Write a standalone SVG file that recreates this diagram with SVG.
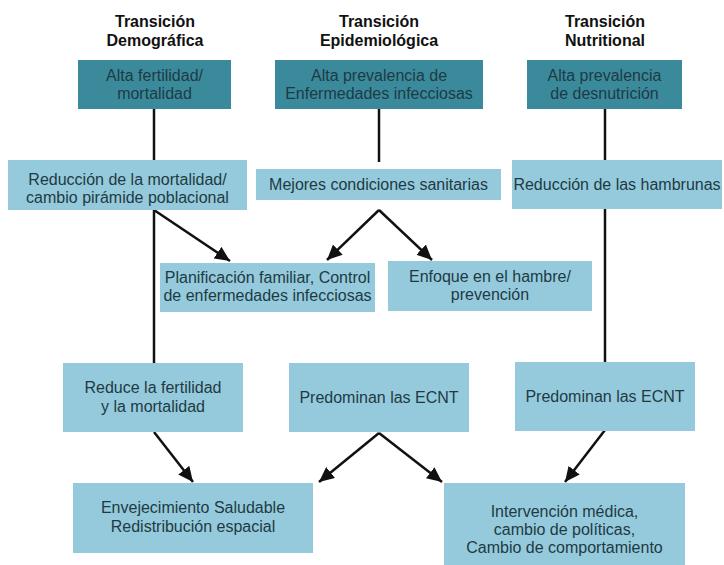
<svg xmlns="http://www.w3.org/2000/svg" width="724" height="565" viewBox="0 0 724 565">
<style>
.hdr{font-family:"Liberation Sans",Arial,sans-serif;font-size:16px;font-weight:bold;fill:#111;text-anchor:middle}
.t{font-family:"Liberation Sans",Arial,sans-serif;font-size:16px;fill:#1f3a44;text-anchor:middle}
.dark{fill:#3a8a9c}
.light{fill:#94cadb}
.c{stroke:#111;stroke-width:2.5;fill:none}
.a{marker-end:url(#ah)}
</style>
<defs>
<marker id="ah" markerUnits="userSpaceOnUse" markerWidth="16" markerHeight="14" refX="15" refY="7" orient="auto">
<path d="M0,0 L15,7 L0,14 z" fill="#111"/>
</marker>
</defs>
<rect width="724" height="565" fill="#fff"/>
<g id="headers">
<text class="hdr" x="155" y="27">Transición</text>
<text class="hdr" x="155" y="46">Demográfica</text>
<text class="hdr" x="379" y="27">Transición</text>
<text class="hdr" x="379" y="46">Epidemiológica</text>
<text class="hdr" x="605" y="27">Transición</text>
<text class="hdr" x="605" y="46">Nutritional</text>
</g>
<g id="connectors">
<line class="c" x1="154" y1="109" x2="154" y2="160"/>
<line class="c" x1="379" y1="109" x2="379" y2="162"/>
<line class="c" x1="605" y1="109" x2="605" y2="160"/>
<line class="c" x1="154" y1="210" x2="154" y2="363"/>
<line class="c" x1="605" y1="209" x2="605" y2="363"/>
<line class="c a" x1="154" y1="210" x2="230" y2="261"/>
<line class="c a" x1="379" y1="210" x2="327" y2="260"/>
<line class="c a" x1="379" y1="210" x2="432" y2="260"/>
<line class="c a" x1="154" y1="432" x2="193" y2="482"/>
<line class="c a" x1="379" y1="433" x2="319" y2="482"/>
<line class="c a" x1="379" y1="433" x2="442" y2="482"/>
<line class="c a" x1="605" y1="430" x2="565" y2="482"/>
</g>
<g id="alta-fertilidad">
<rect class="dark" x="78" y="60" width="153" height="49"/>
<text class="t" x="154.5" y="81">Alta fertilidad/</text>
<text class="t" x="154.5" y="99">mortalidad</text>
</g>
<g id="alta-prevalencia-infecciosas">
<rect class="dark" x="275" y="60" width="208" height="49"/>
<text class="t" x="379" y="81">Alta prevalencia de</text>
<text class="t" x="379" y="99">Enfermedades infecciosas</text>
</g>
<g id="alta-prevalencia-desnutricion">
<rect class="dark" x="527" y="60" width="155" height="49"/>
<text class="t" x="604.5" y="81">Alta prevalencia</text>
<text class="t" x="604.5" y="99">de desnutrición</text>
</g>
<g id="reduccion-mortalidad">
<rect class="light" x="8" y="160" width="239" height="50"/>
<text class="t" x="127.5" y="185">Reducción de la mortalidad/</text>
<text class="t" x="127.5" y="203">cambio pirámide poblacional</text>
</g>
<g id="mejores-condiciones">
<rect class="light" x="256" y="169" width="245" height="31"/>
<text class="t" x="378.5" y="190">Mejores condiciones sanitarias</text>
</g>
<g id="reduccion-hambrunas">
<rect class="light" x="512" y="160" width="210" height="49"/>
<text class="t" x="617" y="190">Reducción de las hambrunas</text>
</g>
<g id="planificacion">
<rect class="light" x="160" y="263" width="215" height="49"/>
<text class="t" x="267.5" y="283">Planificación familiar, Control</text>
<text class="t" x="267.5" y="301">de enfermedades infecciosas</text>
</g>
<g id="enfoque">
<rect class="light" x="388" y="261" width="204" height="50"/>
<text class="t" x="490" y="282">Enfoque en el hambre/</text>
<text class="t" x="490" y="300">prevención</text>
</g>
<g id="reduce-fertilidad">
<rect class="light" x="63" y="363" width="180" height="69"/>
<text class="t" x="153" y="393">Reduce la fertilidad</text>
<text class="t" x="153" y="412">y la mortalidad</text>
</g>
<g id="predominan-ecnt-1">
<rect class="light" x="289" y="363" width="180" height="69"/>
<text class="t" x="379" y="403">Predominan las ECNT</text>
</g>
<g id="predominan-ecnt-2">
<rect class="light" x="515" y="362" width="180" height="69"/>
<text class="t" x="605" y="402">Predominan las ECNT</text>
</g>
<g id="envejecimiento">
<rect class="light" x="73" y="483" width="240" height="70"/>
<text class="t" x="193" y="513">Envejecimiento Saludable</text>
<text class="t" x="193" y="532">Redistribución espacial</text>
</g>
<g id="intervencion">
<rect class="light" x="444" y="483" width="241" height="82"/>
<text class="t" x="564.5" y="517">Intervención médica,</text>
<text class="t" x="564.5" y="535">cambio de políticas,</text>
<text class="t" x="564.5" y="553">Cambio de comportamiento</text>
</g>
</svg>
